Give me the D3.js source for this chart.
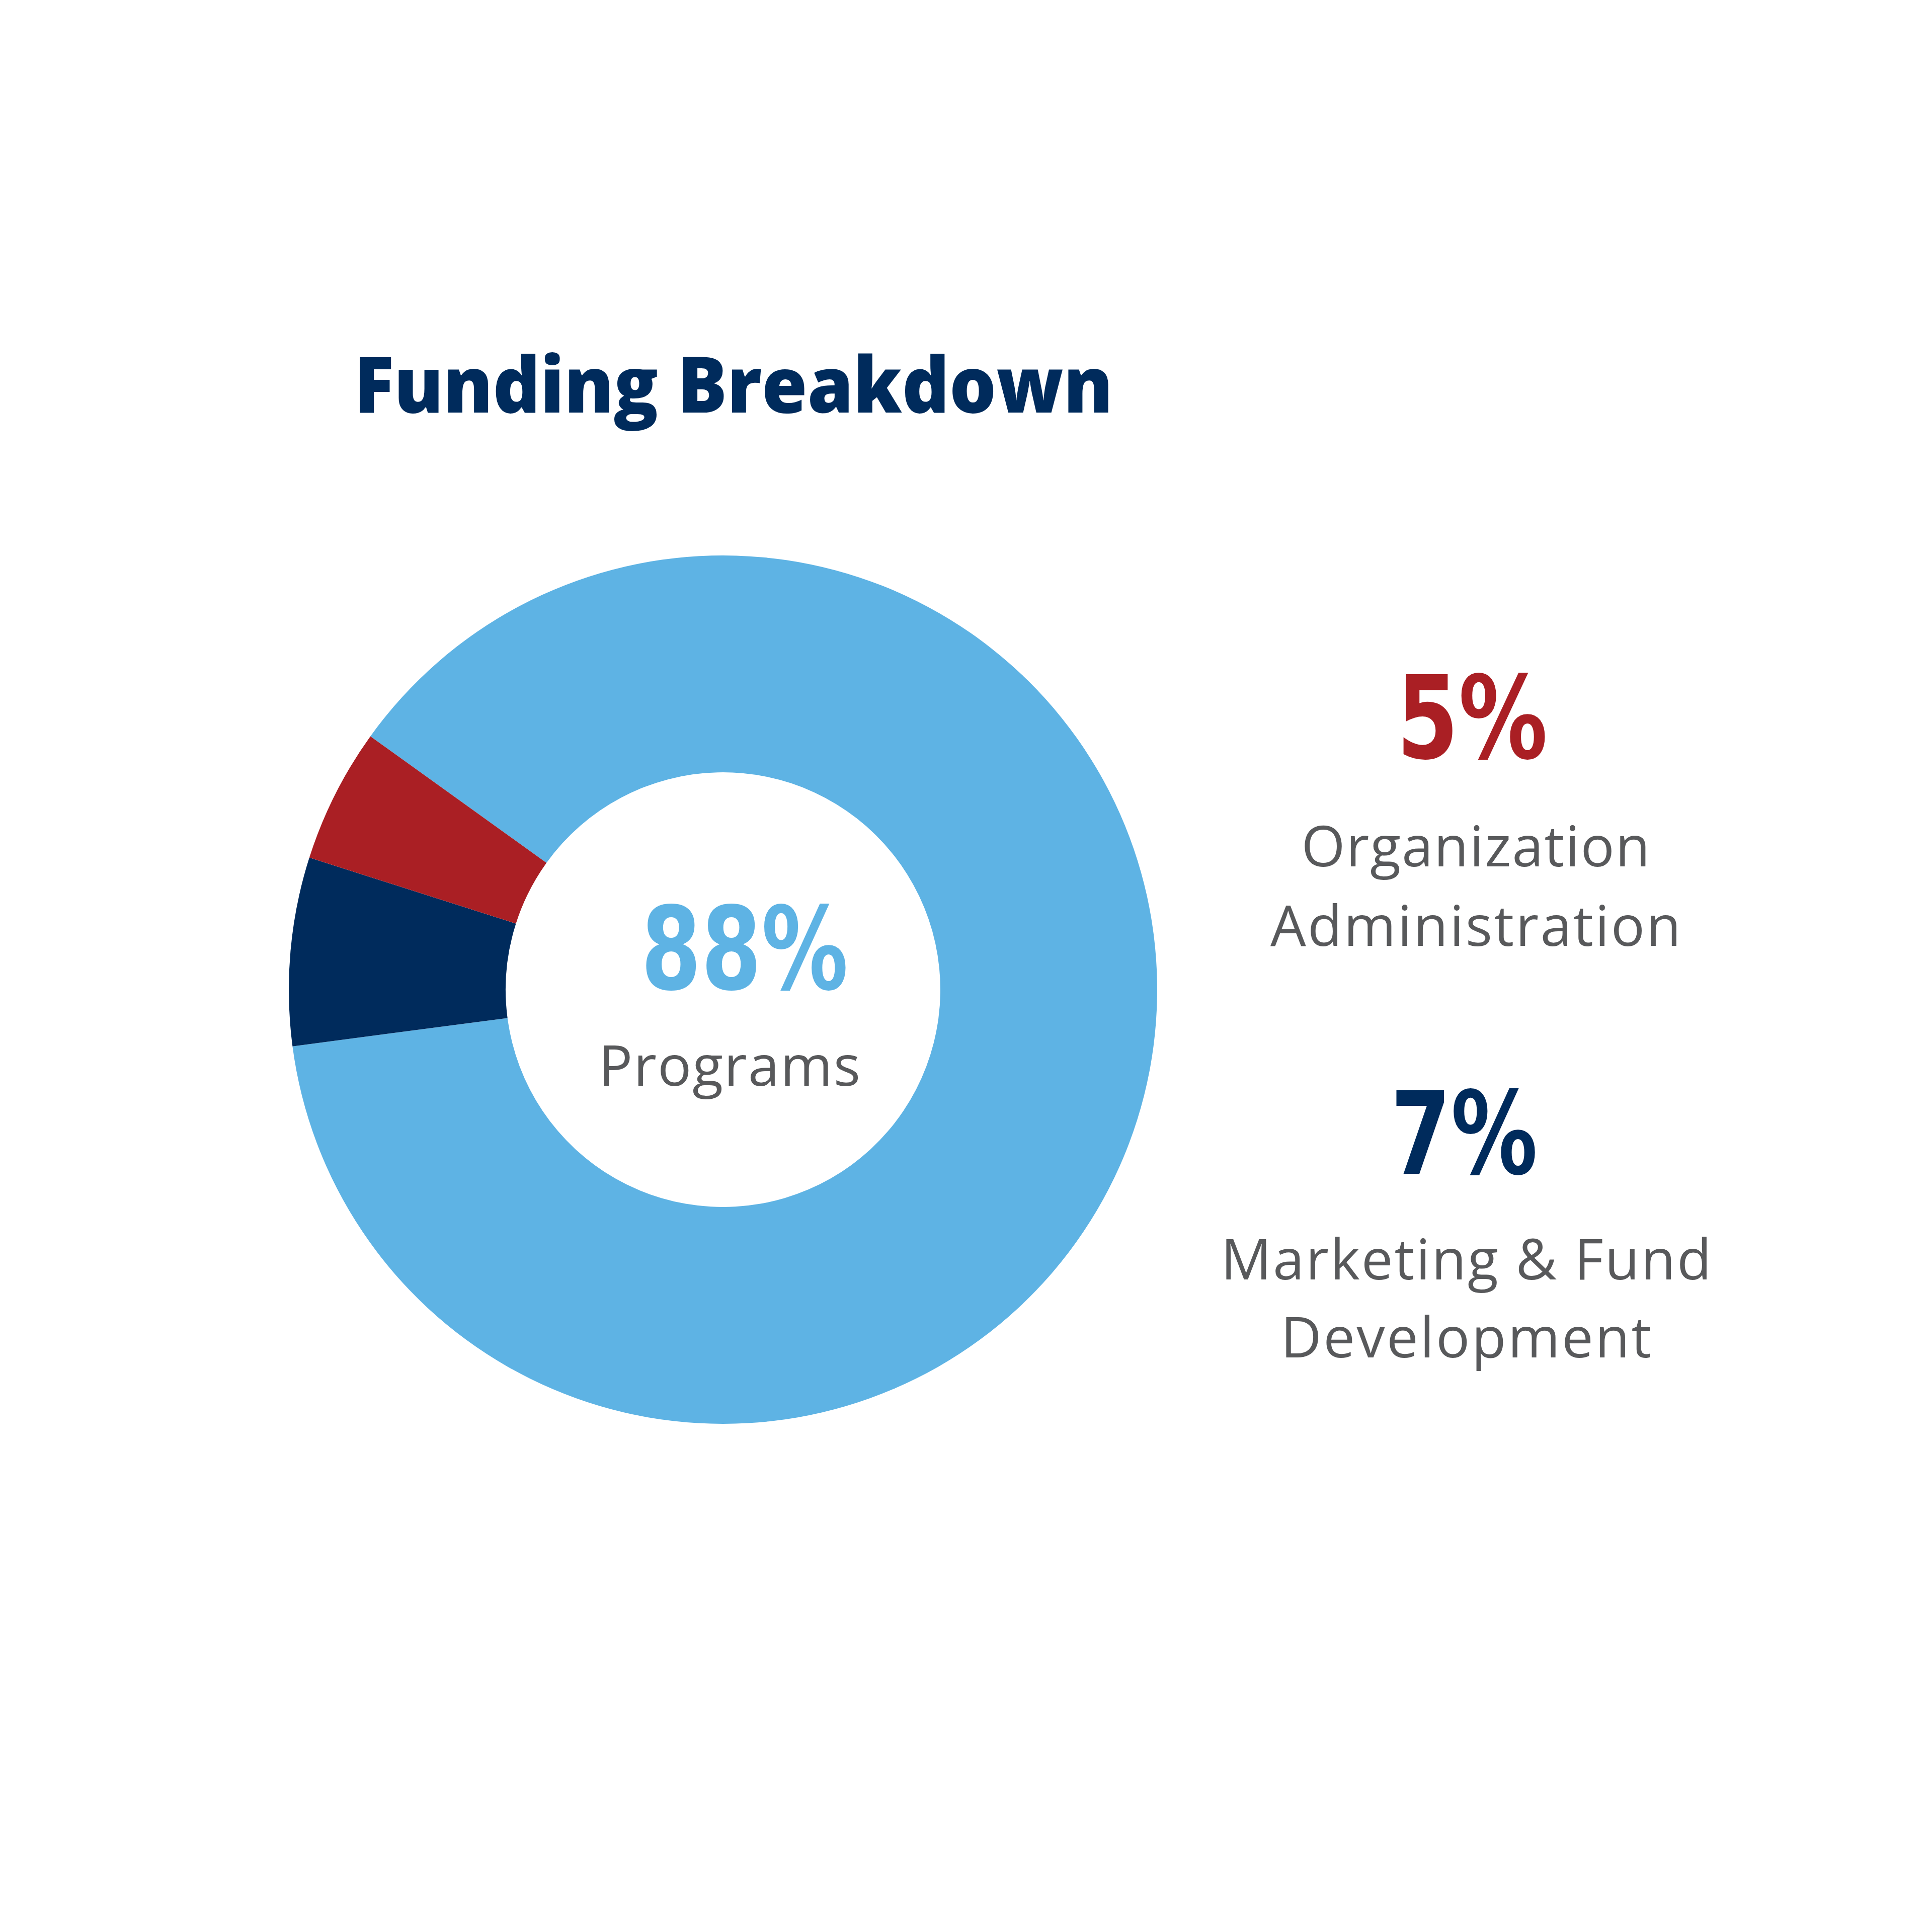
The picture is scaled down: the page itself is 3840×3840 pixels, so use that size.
<!DOCTYPE html>
<html>
<head>
<meta charset="utf-8">
<script src="https://cdn.jsdelivr.net/npm/d3@7"></script>
<style>
  html, body { margin: 0; padding: 0; background: #ffffff; }
  svg { display: block; }
</style>
</head>
<body>
<div id="chart"></div>
<script>
var title = "Funding Breakdown";
var categories = ["Programs", "Marketing & Fund Development", "Organization Administration"];
var values = [88, 7, 5];
var labelLines = [["Programs"], ["Marketing & Fund", "Development"], ["Organization", "Administration"]];

var width = 3840, height = 3840;
var cx = 1437, cy = 1967;
var outerR = 863, innerR = 432;

var color = d3.scaleOrdinal()
    .domain(categories)
    .range(["#5eb3e4", "#002b5c", "#aa1f24"]);

var svg = d3.select("#chart").append("svg")
    .attr("width", width)
    .attr("height", height)
    .attr("viewBox", "0 0 " + width + " " + height);

svg.append("rect")
    .attr("width", width)
    .attr("height", height)
    .attr("fill", "#ffffff");

// title
svg.append("text")
    .attr("x", 1458)
    .attr("y", 820)
    .attr("text-anchor", "middle")
    .attr("font-family", "'Open Sans', Lato, sans-serif")
    .attr("font-weight", 800)
    .attr("font-size", 154)
    .attr("fill", "#002b5c")
    .attr("textLength", 1508)
    .attr("lengthAdjust", "spacingAndGlyphs")
    .text(title);

// donut, programs starts at ~ -54 deg and runs clockwise
var start = -54.3 * Math.PI / 180;
var pie = d3.pie()
    .sort(null)
    .value(function(d){ return d; })
    .startAngle(start)
    .endAngle(start + 2 * Math.PI);

var arc = d3.arc()
    .innerRadius(innerR)
    .outerRadius(outerR);

svg.append("g")
    .attr("transform", "translate(" + cx + "," + cy + ")")
    .selectAll("path")
    .data(pie(values))
    .enter()
    .append("path")
    .attr("d", arc)
    .attr("fill", function(d, i){ return color(categories[i]); });

// label blocks: percent x/baseline/width, then text lines x/baselines/widths
var blocks = [
    { i: 0, px: 1480, py: 1966, pw: 412, lx: 1450, ly: [2158], lw: [520] },
    { i: 1, px: 2910, py: 2333, pw: 292, lx: 2914, ly: [2543, 2698], lw: [975, 737] },
    { i: 2, px: 2926, py: 1507, pw: 300, lx: 2933, ly: [1722, 1880], lw: [693, 816] }
];

var g = svg.append("g");

blocks.forEach(function(b){
    g.append("text")
        .attr("x", b.px)
        .attr("y", b.py)
        .attr("text-anchor", "middle")
        .attr("font-family", "'DejaVu Sans Condensed', 'DejaVu Sans', sans-serif")
        .attr("font-weight", "bold")
        .attr("font-size", 228)
        .attr("fill", color(categories[b.i]))
        .attr("textLength", b.pw)
        .attr("lengthAdjust", "spacingAndGlyphs")
        .text(values[b.i] + "%");

    labelLines[b.i].forEach(function(line, k){
        g.append("text")
            .attr("x", b.lx)
            .attr("y", b.ly[k])
            .attr("text-anchor", "middle")
            .attr("font-family", "'Open Sans', Lato, sans-serif")
            .attr("font-weight", 400)
            .attr("font-size", 112)
            .attr("fill", "#58595b")
            .attr("textLength", b.lw[k])
            .attr("lengthAdjust", "spacing")
            .text(line);
    });
});
</script>
</body>
</html>
